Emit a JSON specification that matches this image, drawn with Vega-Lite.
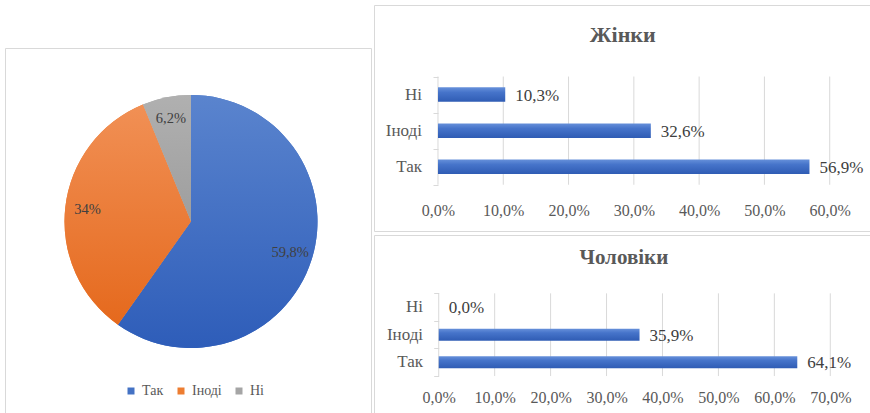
{
  "$schema": "https://vega.github.io/schema/vega-lite/v6.json",
  "padding": {"left": 4, "top": 4, "right": 0, "bottom": 0},
  "background": "white",
  "config": {
    "view": {"stroke": "#D9D9D9", "strokeWidth": 1},
    "font": "Liberation Serif"
  },
  "datasets": {
    "pie": [
      {"cat": "Так", "value": 59.8, "label": "59,8%", "n": 1},
      {"cat": "Іноді", "value": 34.0, "label": "34%", "n": 2},
      {"cat": "Ні", "value": 6.2, "label": "6,2%", "n": 3}
    ],
    "women": [
      {"cat": "Так", "idx": 1, "value": 56.9, "label": "56,9%"},
      {"cat": "Іноді", "idx": 2, "value": 32.6, "label": "32,6%"},
      {"cat": "Ні", "idx": 3, "value": 10.3, "label": "10,3%"}
    ],
    "men": [
      {"cat": "Так", "idx": 1, "value": 64.1, "label": "64,1%"},
      {"cat": "Іноді", "idx": 2, "value": 35.9, "label": "35,9%"},
      {"cat": "Ні", "idx": 3, "value": 0.0, "label": "0,0%"}
    ],
    "gridW": [{"t": 0}, {"t": 10}, {"t": 20}, {"t": 30}, {"t": 40}, {"t": 50}, {"t": 60}],
    "gridM": [{"t": 0}, {"t": 10}, {"t": 20}, {"t": 30}, {"t": 40}, {"t": 50}, {"t": 60}, {"t": 70}],
    "titleW": [{"name": "Жінки"}],
    "titleM": [{"name": "Чоловіки"}]
  },
  "spacing": 1,
  "hconcat": [
    {
      "spacing": 0,
      "vconcat": [
        {
          "width": 366,
          "height": 42,
          "view": {"stroke": null},
          "data": {"values": []},
          "mark": "point",
          "encoding": {}
        },
        {
          "width": 366,
          "height": 365,
          "view": {"stroke": "#D9D9D9", "strokeWidth": 1},
          "data": {"name": "pie"},
          "layer": [
            {
              "mark": {"type": "arc", "outerRadius": 126.5, "xOffset": 3, "yOffset": -9},
              "encoding": {
                "theta": {"field": "value", "type": "quantitative", "stack": true},
                "order": {"field": "n", "type": "quantitative"},
                "color": {
                  "field": "cat",
                  "type": "nominal",
                  "sort": ["Так", "Іноді", "Ні"],
                  "scale": {"domain": ["Так", "Іноді", "Ні"], "range": ["#4472C4", "#ED7D31", "#A5A5A5"]},
                  "legend": {
                    "orient": "none",
                    "legendX": 119,
                    "legendY": 379,
                    "direction": "horizontal",
                    "title": null,
                    "symbolType": "square",
                    "symbolSize": 49,
                    "symbolStrokeWidth": 0,
                    "labelFont": "Liberation Serif",
                    "labelFontSize": 14,
                    "labelColor": "#595959",
                    "labelOffset": 4,
                    "columnPadding": 10
                  }
                }
              }
            },
            {
              "mark": {"type": "arc", "outerRadius": 126.5, "xOffset": 3, "yOffset": -9},
              "encoding": {
                "theta": {"field": "value", "type": "quantitative", "stack": true},
                "order": {"field": "n", "type": "quantitative"},
                "fill": {
                  "condition": [
                    {"test": "datum.cat === 'Так'", "value": {"gradient": "linear", "x1": 0, "y1": 0, "x2": 0, "y2": 1, "stops": [{"offset": 0, "color": "#5A84CE"}, {"offset": 1, "color": "#2E5DB9"}]}},
                    {"test": "datum.cat === 'Іноді'", "value": {"gradient": "linear", "x1": 0, "y1": 0, "x2": 0, "y2": 1, "stops": [{"offset": 0, "color": "#F19055"}, {"offset": 1, "color": "#E5691D"}]}}
                  ],
                  "value": {"gradient": "linear", "x1": 0, "y1": 0, "x2": 0, "y2": 1, "stops": [{"offset": 0, "color": "#B0B0B0"}, {"offset": 1, "color": "#9E9E9E"}]}
                }
              }
            },
            {
              "mark": {"type": "text", "font": "Liberation Serif", "radius": 104, "xOffset": 3, "yOffset": -9, "fontSize": 14.5, "fill": "#404040"},
              "encoding": {
                "theta": {"field": "value", "type": "quantitative", "stack": true},
                "order": {"field": "n", "type": "quantitative"},
                "text": {"field": "label", "type": "nominal"}
              }
            }
          ]
        }
      ]
    },
    {
      "spacing": 2,
      "vconcat": [
        {
          "width": 496,
          "height": 226,
          "layer": [
            {
              "data": {"name": "gridW"},
              "mark": {"type": "rule", "color": "#D9D9D9", "strokeWidth": 1},
              "encoding": {
                "x": {
                  "field": "t", "type": "quantitative", "title": null,
                  "scale": {"domain": [-9.8, 66.17], "nice": false, "zero": false},
                  "axis": {
                    "values": [0, 10, 20, 30, 40, 50, 60],
                    "labelExpr": "replace(format(datum.value,'.1f'),'.',',')+'%'",
                    "domain": false, "ticks": false, "tickSize": 0, "grid": false,
                    "labelPadding": 0, "labelBaseline": "middle", "offset": -21,
                    "labelFont": "Liberation Serif",
                    "labelFontSize": 16, "labelColor": "#595959", "labelOverlap": false, "labelFlush": false
                  }
                },
                "y": {
                  "datum": 0.5, "type": "quantitative", "title": null,
                  "scale": {"domain": [-0.643, 5.344], "nice": false, "zero": false},
                  "axis": {
                    "values": [0.5, 1.5, 2.5, 3.5], "labels": false, "domain": false, "grid": false,
                    "ticks": true, "tickSize": 5, "tickColor": "#D9D9D9", "offset": -64
                  }
                },
                "y2": {"datum": 3.5}
              }
            },
            {
              "data": {"name": "women"},
              "mark": {
                "type": "bar", "orient": "horizontal", "height": 14.5,
                "fill": {"gradient": "linear", "x1": 0, "y1": 0, "x2": 0, "y2": 1, "stops": [{"offset": 0, "color": "#6690DA"}, {"offset": 0.35, "color": "#4674CA"}, {"offset": 1, "color": "#2F5CB4"}]}
              },
              "encoding": {
                "x": {"field": "value", "type": "quantitative", "title": null},
                "y": {"field": "idx", "type": "quantitative", "title": null}
              }
            },
            {
              "data": {"name": "women"},
              "mark": {"type": "text", "font": "Liberation Serif", "align": "left", "baseline": "middle", "dx": 10, "dy": 1, "fontSize": 17, "color": "#404040"},
              "encoding": {
                "x": {"field": "value", "type": "quantitative", "title": null},
                "y": {"field": "idx", "type": "quantitative", "title": null},
                "text": {"field": "label", "type": "nominal"}
              }
            },
            {
              "data": {"name": "women"},
              "mark": {"type": "text", "font": "Liberation Serif", "align": "right", "baseline": "middle", "fontSize": 17, "color": "#595959"},
              "encoding": {
                "x": {"datum": -2.45, "type": "quantitative"},
                "y": {"field": "idx", "type": "quantitative", "title": null},
                "text": {"field": "cat", "type": "nominal"}
              }
            },
            {
              "data": {"name": "titleW"},
              "mark": {"type": "text", "font": "Liberation Serif", "align": "center", "baseline": "middle", "fontSize": 22, "fontWeight": "bold", "color": "#595959"},
              "encoding": {
                "x": {"datum": 28.3, "type": "quantitative"},
                "y": {"datum": 4.66, "type": "quantitative"},
                "text": {"field": "name", "type": "nominal"}
              }
            }
          ]
        },
        {
          "width": 496,
          "height": 179,
          "layer": [
            {
              "data": {"name": "gridM"},
              "mark": {"type": "rule", "color": "#D9D9D9", "strokeWidth": 1},
              "encoding": {
                "x": {
                  "field": "t", "type": "quantitative", "title": null,
                  "scale": {"domain": [-11.57, 77.1], "nice": false, "zero": false},
                  "axis": {
                    "values": [0, 10, 20, 30, 40, 50, 60, 70],
                    "labelExpr": "replace(format(datum.value,'.1f'),'.',',')+'%'",
                    "domain": false, "ticks": false, "tickSize": 0, "grid": false,
                    "labelPadding": 0, "labelBaseline": "middle", "offset": -17,
                    "labelFont": "Liberation Serif",
                    "labelFontSize": 16, "labelColor": "#595959", "labelOverlap": false, "labelFlush": false
                  }
                },
                "y": {
                  "datum": 0.5, "type": "quantitative", "title": null,
                  "scale": {"domain": [-0.695, 5.435], "nice": false, "zero": false},
                  "axis": {
                    "values": [0.5, 1.5, 2.5, 3.5], "labels": false, "domain": false, "grid": false,
                    "ticks": true, "tickSize": 5, "tickColor": "#D9D9D9", "offset": -64.7
                  }
                },
                "y2": {"datum": 3.5}
              }
            },
            {
              "data": {"name": "men"},
              "mark": {
                "type": "bar", "orient": "horizontal", "height": 12,
                "fill": {"gradient": "linear", "x1": 0, "y1": 0, "x2": 0, "y2": 1, "stops": [{"offset": 0, "color": "#6690DA"}, {"offset": 0.35, "color": "#4674CA"}, {"offset": 1, "color": "#2F5CB4"}]}
              },
              "encoding": {
                "x": {"field": "value", "type": "quantitative", "title": null},
                "y": {"field": "idx", "type": "quantitative", "title": null}
              }
            },
            {
              "data": {"name": "men"},
              "mark": {"type": "text", "font": "Liberation Serif", "align": "left", "baseline": "middle", "dx": 10, "dy": 1, "fontSize": 17, "color": "#404040"},
              "encoding": {
                "x": {"field": "value", "type": "quantitative", "title": null},
                "y": {"field": "idx", "type": "quantitative", "title": null},
                "text": {"field": "label", "type": "nominal"}
              }
            },
            {
              "data": {"name": "men"},
              "mark": {"type": "text", "font": "Liberation Serif", "align": "right", "baseline": "middle", "fontSize": 17, "color": "#595959"},
              "encoding": {
                "x": {"datum": -2.8, "type": "quantitative"},
                "y": {"field": "idx", "type": "quantitative", "title": null},
                "text": {"field": "cat", "type": "nominal"}
              }
            },
            {
              "data": {"name": "titleM"},
              "mark": {"type": "text", "font": "Liberation Serif", "align": "center", "baseline": "middle", "fontSize": 21, "fontWeight": "bold", "color": "#595959"},
              "encoding": {
                "x": {"datum": 33.1, "type": "quantitative"},
                "y": {"datum": 4.8, "type": "quantitative"},
                "text": {"field": "name", "type": "nominal"}
              }
            }
          ]
        }
      ]
    }
  ]
}
